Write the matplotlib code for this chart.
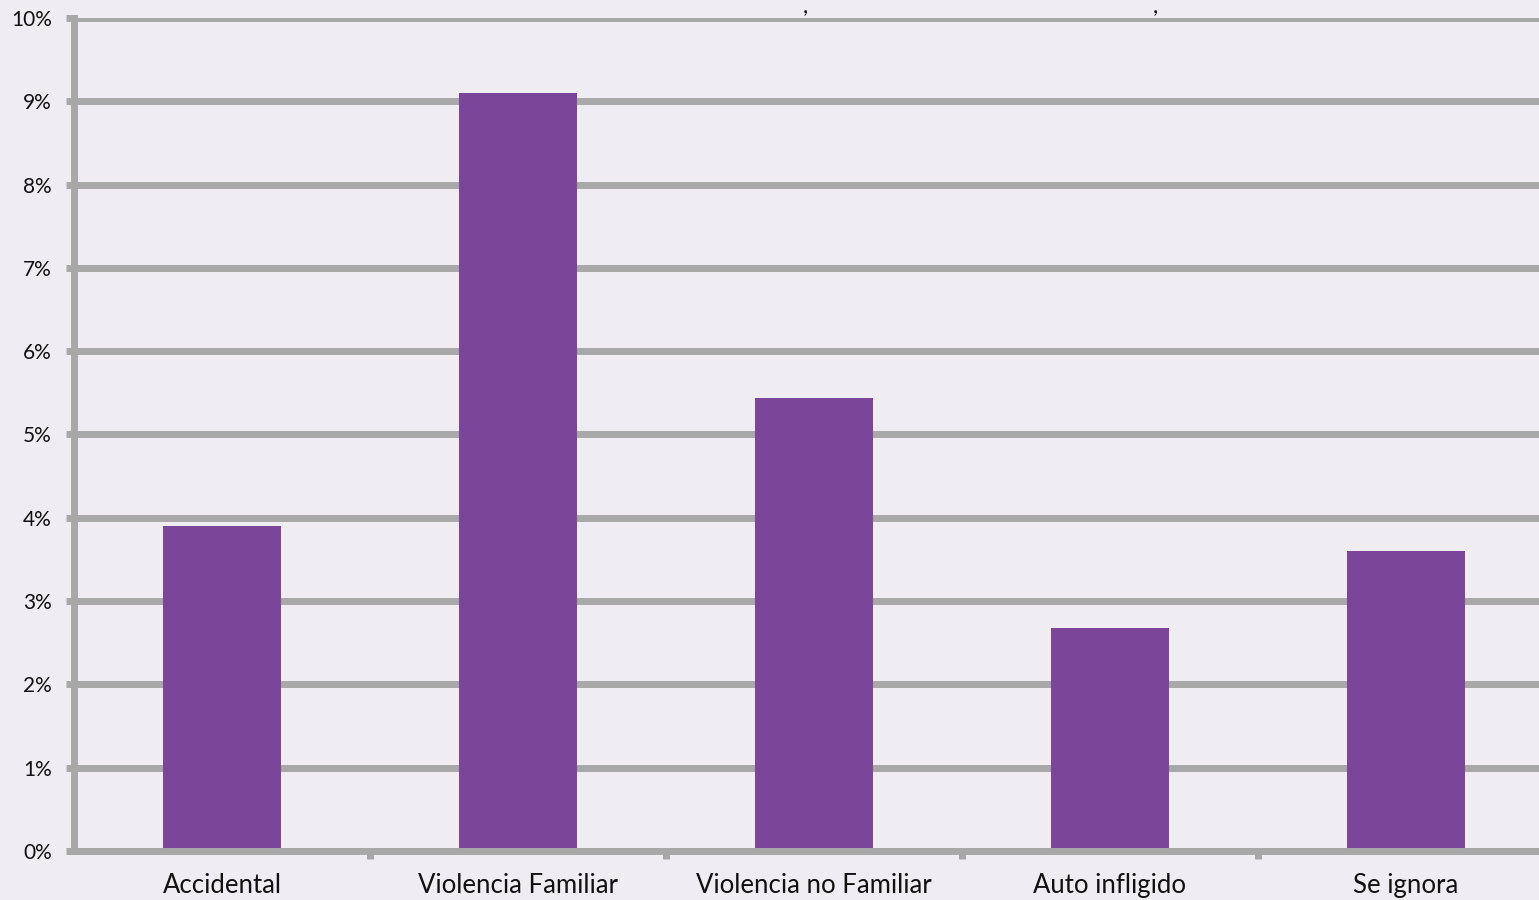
import matplotlib
matplotlib.use("Agg")
import matplotlib.pyplot as plt
from matplotlib.ticker import FixedLocator

categories = ["Accidental", "Violencia Familiar", "Violencia no Familiar", "Auto infligido", "Se ignora"]
values = [3.90, 9.10, 5.44, 2.68, 3.60]
yticks = [0, 1, 2, 3, 4, 5, 6, 7, 8, 9, 10]
ytick_labels = [f"{v}%" for v in yticks]

plt.rcParams['font.family'] = ['Lato', 'DejaVu Sans']

bg = "#efedf2"
grid_c = "#a8a8a8"
bar_c = "#7b4599"

fig = plt.figure(figsize=(15.39, 9.0), dpi=100, facecolor=bg)
ax = fig.add_axes([74/1539, 1-851/900, 1480/1539, 833/900])
ax.set_facecolor(bg)

x = list(range(len(categories)))
ax.bar(x, values, width=0.4, color=bar_c, zorder=3)

ax.set_xlim(-0.5, len(categories) - 0.5)
ax.set_ylim(0, 10)
ax.set_yticks(yticks)
ax.set_yticklabels(ytick_labels, fontsize=15)
ax.set_xticks(x)
ax.set_xticklabels(categories, fontsize=18.5)
ax.xaxis.set_minor_locator(FixedLocator([i + 0.5 for i in range(len(categories) - 1)]))

ax.yaxis.grid(True, color=grid_c, linewidth=5, zorder=1)
ax.set_axisbelow(True)
for s in ["top", "right"]:
    ax.spines[s].set_visible(False)
for s in ["left", "bottom"]:
    ax.spines[s].set_color(grid_c)
    ax.spines[s].set_linewidth(5)
    ax.spines[s].set_zorder(4)

ax.tick_params(axis="y", length=6, width=5, color=grid_c, pad=10, labelcolor="#111111")
ax.tick_params(axis="x", which="major", length=0, pad=16, labelcolor="#111111")
ax.tick_params(axis="x", which="minor", length=6, width=5, color=grid_c)

# fragments of a cut-off title at the top edge
fig.text(805/1539, 1-7/900, ",", fontsize=16, ha="center", va="center", color="#111111")
fig.text(1155/1539, 1-7/900, ",", fontsize=16, ha="center", va="center", color="#111111")

fig.savefig("out.png", dpi=100, facecolor=bg)
